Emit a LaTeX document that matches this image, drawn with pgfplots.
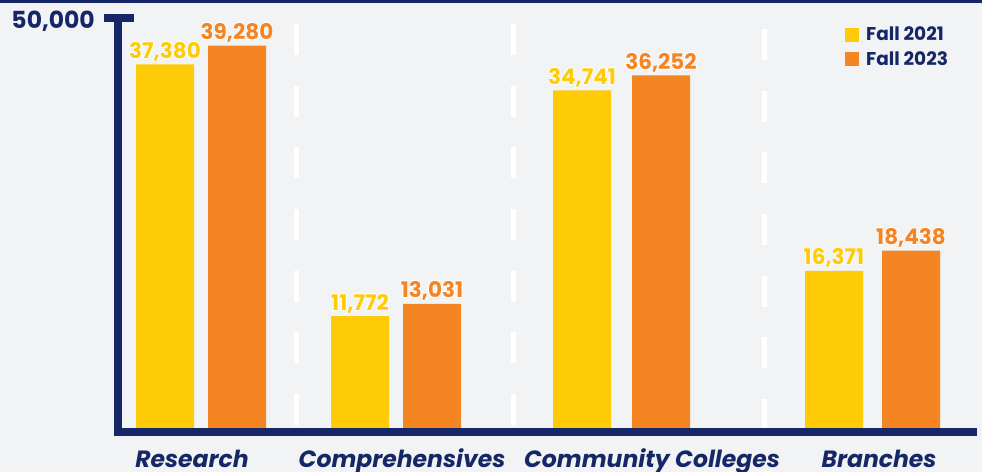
\documentclass[border=0pt]{standalone}
\usepackage{fontspec}
\setmainfont{Poppins}
\usepackage{pgfplots}
\pgfplotsset{compat=1.18}
\definecolor{navy}{HTML}{152766}
\definecolor{cyel}{HTML}{FFCA08}
\definecolor{corg}{HTML}{F58523}
\definecolor{bg}{HTML}{F2F3F5}
\newcommand\halo[1]{\setbox0\hbox{#1}\rlap{\color{white}\raise0.9bp\copy0}\rlap{\color{white}\lower0.9bp\copy0}\rlap{\color{white}\kern0.9bp\copy0}\rlap{\color{white}\kern-0.9bp\copy0}\copy0}
\begin{document}
\begin{tikzpicture}
\fill[bg] (0,0) rectangle (982bp,472bp);
\fill[navy] (0,468.7bp) rectangle (982bp,472bp);
% separators
\draw[white, line width=5bp, dash pattern=on 31bp off 30.7bp] (296.7bp,448bp) -- (296.7bp,47bp);
\draw[white, line width=5bp, dash pattern=on 31bp off 30.7bp] (513bp,448bp) -- (513bp,47bp);
\draw[white, line width=5bp, dash pattern=on 31bp off 30.7bp] (764bp,443bp) -- (764bp,43bp);
\begin{axis}[
  at={(118bp,40bp)}, anchor=south west, scale only axis,
  width=859bp, height=418bp,
  xmin=118, xmax=977, ymin=0, ymax=42500,
  axis line style={draw=none},
  ytick=\empty,
  xtick={192,402,652,879},
  xticklabels={Research,Comprehensives,Community Colleges,Branches},
  major tick length=0pt,
  xticklabel style={font=\fontsize{23.5bp}{26bp}\selectfont\bfseries\itshape, text=navy, anchor=base, yshift=-35bp},
  ybar, bar width=58, bar shift=0pt,
  /pgf/number format/.cd, 1000 sep={,}, assume math mode=true, /pgfplots/.cd,
  nodes near coords={\halo{\pgfmathprintnumber{\pgfplotspointmeta}}},
  every node near coord/.append style={anchor=base, yshift=6bp, inner sep=0pt, font=\fontsize{21.5bp}{24bp}\selectfont\bfseries},
  legend style={at={(rel axis cs:0.8463,0.9737)}, anchor=north west, draw=none, fill=none, inner sep=0pt,
    font=\fontsize{18.5bp}{20bp}\selectfont\bfseries, text=navy, row sep=5bp, nodes={inner sep=2bp},
    /tikz/every odd column/.append style={column sep=5bp}},
  legend image code/.code={\fill[#1, draw=none] (0bp,-7bp) rectangle (14bp,7bp);},
  legend cell align=left,
  clip=false,
]
\addplot[fill=cyel, draw=none, every node near coord/.append style={text=cyel}]
  coordinates {(165,37380) (360,11772) (582,34741) (834,16371)};
\addplot[fill=corg, draw=none, every node near coord/.append style={text=corg}]
  coordinates {(237,39280) (432,13031) (661,36252) (911,18438)};
\legend{Fall 2021, Fall 2023}
\end{axis}
% axis lines
\fill[navy] (114.3bp,36bp) rectangle (122.3bp,458bp);
\fill[navy] (104bp,450bp) rectangle (134bp,458bp);
\fill[navy] (114.3bp,36bp) rectangle (977bp,44bp);
\node[anchor=base east, inner sep=0pt, text=navy, font=\fontsize{23.5bp}{26bp}\selectfont\bfseries] at (95bp,443bp) {50,000};
\pgfresetboundingbox
\useasboundingbox (0,0) rectangle (982bp,472bp);
\end{tikzpicture}
\end{document}
